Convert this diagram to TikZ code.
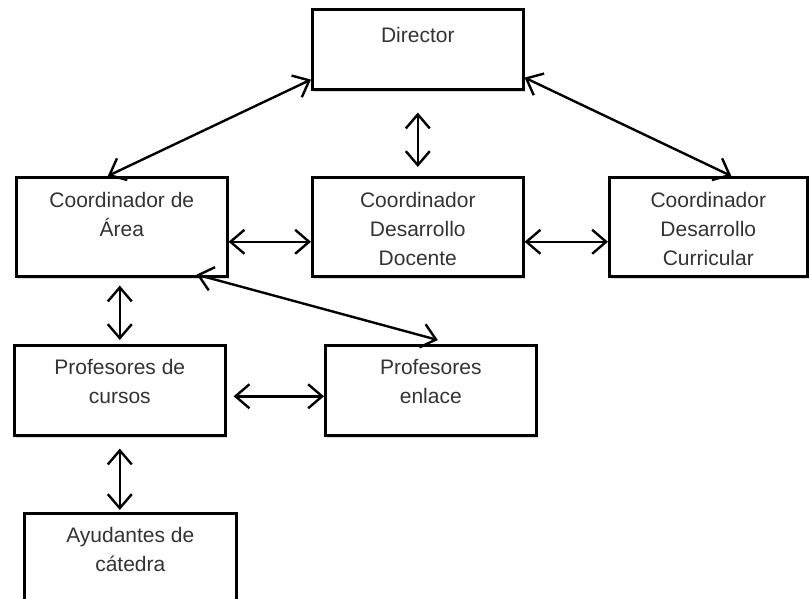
\documentclass[tikz,border=0pt]{standalone}
\usepackage{fontspec}
\setmainfont{Liberation Sans}
\usetikzlibrary{positioning,arrows.meta,shadows}

\tikzset{
  caja/.style={draw, line width=2.6pt, fill=white, anchor=north west,
    minimum width=211pt, minimum height=99pt, inner sep=0pt,
    drop shadow={shadow xshift=1.5pt, shadow yshift=-2.5pt, opacity=.3}},
  rotulo/.style={align=center, inner sep=0pt, text=black!80,
    font=\fontsize{21}{29}\selectfont},
  enlace/.style={line width=2.4pt,
    {Straight Barb[length=14pt,width=24pt]}-{Straight Barb[length=14pt,width=24pt]}},
}

\begin{document}
\begin{tikzpicture}[x=1pt, y=-1pt]
  \clip (0,0) rectangle (809,599);

  % cajas
  \node[caja, minimum height=80pt] (dir) at (311,8) {};
  \node[caja] (area) at (15,176) {};
  \node[caja] (doc) at (311,176) {};
  \node[caja, minimum width=198pt] (curr) at (608,176) {};
  \node[caja, minimum height=90pt] (cursos) at (13,344) {};
  \node[caja, minimum height=90pt] (prenl) at (324,344) {};
  \node[caja, minimum width=212pt, minimum height=110pt] (ayud) at (23,512) {};

  % textos
  \node[rotulo, below=19pt of dir.north] {Director};
  \node[rotulo, below=16pt of area.north] {Coordinador de\\\'Area};
  \node[rotulo, below=16pt of doc.north] {Coordinador\\Desarrollo\\Docente};
  \node[rotulo, below=16pt of curr.north] {Coordinador\\Desarrollo\\Curricular};
  \node[rotulo, below=15pt of cursos.north] {Profesores de\\cursos};
  \node[rotulo, below=15pt of prenl.north] {Profesores\\enlace};
  \node[rotulo, below=15pt of ayud.north] {Ayudantes de\\c\'atedra};

  % flechas
  \draw[enlace] ([xshift=-14pt]area.north) -- ([yshift=11pt]dir.south west);
  \draw[enlace] ([yshift=13pt]dir.south east) -- ([xshift=23pt]curr.north);
  \draw[enlace] ([yshift=-22pt]dir.south) -- ([yshift=9pt]doc.north);
  \draw[enlace] ([yshift=-15pt]area.east) -- ([yshift=-15pt]doc.west);
  \draw[enlace] ([yshift=-15pt]doc.east) -- ([yshift=-15pt]curr.west);
  \draw[enlace] ([yshift=-8pt]cursos.north |- area.south) -- ([yshift=4pt]cursos.north);
  \draw[enlace] ([xshift=-32pt,yshift=3pt]area.south east) -- ([xshift=7pt,yshift=4pt]prenl.north);
  \draw[enlace] ([xshift=7pt,yshift=-6pt]cursos.east) -- ([yshift=-6pt]prenl.west);
  \draw[enlace] ([yshift=-12pt]cursos.south) -- ([yshift=2pt]cursos.south |- ayud.north);
\end{tikzpicture}
\end{document}
